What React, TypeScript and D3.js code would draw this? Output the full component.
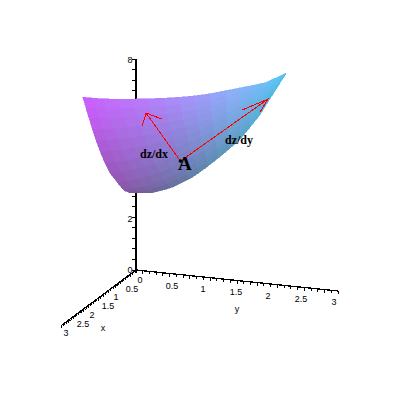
import React from "react";
import * as d3 from "d3";

// Axis values
const xTickLabels = ["0", "0.5", "1", "1.5", "2", "2.5", "3"];
const yTickLabels = ["0", "0.5", "1", "1.5", "2", "2.5", "3"];
const zTickLabels = ["0", "2", "8"];
const xyMinorTicks = d3.range(0, 31).map((d) => d / 10);
const zMinorTicks = d3.range(0, 21).map((d) => d * 0.4);

// Surface outline, as [y, z] read in the plane of the y and z axes
const surfaceTop: [number, number][] = [[-0.79, 6.55], [-0.46, 6.48], [0.01, 6.48], [0.51, 6.52], [1.0, 6.63], [1.51, 6.89], [1.9, 7.08], [2.23, 7.46]];
const surfaceBottom: [number, number][] = [[-0.09, 2.92], [0.25, 2.92], [0.55, 3.14], [0.85, 3.52], [1.15, 4.09], [1.51, 4.85], [1.81, 5.76], [2.23, 7.46]];
const surfaceLeft: [number, number][] = [[-0.79, 6.55], [-0.69, 5.68], [-0.57, 4.73], [-0.42, 3.79], [-0.19, 3.03], [-0.09, 2.92]];

// Corner colours of the surface
const colorTop = ["#cf5cff", "#b084fb", "#8fb0fa", "#52c8f6"];
const colorBottom = ["#75558f", "#5f7ba0", "#5a9cc0", "#52c0e6"];

// Arrows, [y, z]
const pointA: [number, number] = [0.66, 4.13];
const arrowDx: [number, number][] = [[0.66, 4.13], [0.15, 5.95]];
const arrowDxHead: [number, number][] = [[0.09, 5.45], [0.15, 5.95], [0.39, 5.72]];
const arrowDy: [number, number][] = [[0.66, 4.13], [1.96, 6.48]];
const arrowDyHead: [number, number][] = [[1.57, 6.06], [1.96, 6.48], [1.84, 5.98]];

const yScale = d3.scaleLinear().domain([0, 3]).range([136, 338]);
const zScale = d3.scaleLinear().domain([0, 8]).range([270, 59]);
const xPosX = d3.scaleLinear().domain([0, 3]).range([136, 62]);
const xPosY = d3.scaleLinear().domain([0, 3]).range([270, 325]);
const yPosY = d3.scaleLinear().domain([0, 3]).range([270, 291]);

const px = (p: [number, number]): [number, number] => [yScale(p[0]), zScale(p[1])];

function along(points: [number, number][]) {
  const t = points.map((_, i) => i / (points.length - 1));
  const a = d3.scaleLinear().domain(t).range(points.map((p) => p[0]));
  const b = d3.scaleLinear().domain(t).range(points.map((p) => p[1]));
  return (u: number): [number, number] => [a(u), b(u)];
}

const topAt = along(surfaceTop);
const bottomAt = along(surfaceBottom);
const leftAt = along(surfaceLeft);
const colTop = d3.scaleLinear<string>().domain([0, 0.4, 0.7, 1]).range(colorTop);
const colBottom = d3.scaleLinear<string>().domain([0, 0.4, 0.7, 1]).range(colorBottom);

const nU = 15;
const nV = 11;
function node(u: number, v: number): [number, number] {
  const t = topAt(u);
  const b = bottomAt(u);
  const l = leftAt(v);
  const l0 = surfaceLeft[0];
  const l1 = surfaceLeft[surfaceLeft.length - 1];
  const w = 1 - u;
  return [
    t[0] * (1 - v) + b[0] * v + w * w * (l[0] - (l0[0] * (1 - v) + l1[0] * v)),
    t[1] * (1 - v) + b[1] * v + w * w * (l[1] - (l0[1] * (1 - v) + l1[1] * v)),
  ];
}

const cells = d3.range(nU).flatMap((i) =>
  d3.range(nV).map((j) => {
    const u0 = i / nU, u1 = (i + 1) / nU, v0 = j / nV, v1 = (j + 1) / nV;
    const pts = [node(u0, v0), node(u1, v0), node(u1, v1), node(u0, v1)].map(px);
    const uc = (u0 + u1) / 2, vc = (v0 + v1) / 2;
    const fill = d3.interpolateRgb(colTop(uc), colBottom(uc))(Math.pow(vc, 1.15));
    return { key: `${i}-${j}`, d: d3.line()(pts) + "Z", fill };
  })
);

const line = d3.line();
const tickFont: React.CSSProperties = { fontFamily: "'Liberation Sans', sans-serif", fontSize: 9, fill: "#000" };
const boldFont: React.CSSProperties = { fontFamily: "'Liberation Serif', serif", fontWeight: 700, fill: "#000" };

const xLabelPos: [number, number][] = [[140, 283], [132, 292], [116, 300], [108, 309], [92, 318], [83, 327], [66, 336]];
const yLabelPos: [number, number][] = [[140, 283], [172, 289], [203, 292], [236, 295], [268, 299], [301, 302], [334, 305]];
const zLabelPos: [number, number][] = [[130, 273], [130, 222], [130, 63]];

export default function App() {
  return (
    <svg width={400} height={400} style={{ position: "fixed", left: 0, top: 0, background: "#fff" }}>
      <g shapeRendering="crispEdges" stroke="#000" fill="none">
        <path d={line([[136, zScale(0)], [136, zScale(8)]])!} strokeWidth={1.4} />
        {zMinorTicks.map((z) => (
          <path key={z} d={line([[132, zScale(z)], [136, zScale(z)]])!} />
        ))}
        <path d={line([[136, 270], [yScale(3), yPosY(3)]])!} strokeWidth={1.3} />
        {xyMinorTicks.map((y) => (
          <path key={y} d={line([[yScale(y), yPosY(y)], [yScale(y), yPosY(y) + 3]])!} />
        ))}
        <path d={line([[136, 270], [xPosX(3), xPosY(3)]])!} strokeWidth={1.3} />
        {xyMinorTicks.map((x) => (
          <path key={x} d={line([[xPosX(x), xPosY(x)], [xPosX(x) - 1, xPosY(x) + 3]])!} />
        ))}
      </g>
      <g shapeRendering="crispEdges">
        {cells.map((c) => (
          <path key={c.key} d={c.d} fill={c.fill} stroke={c.fill} strokeWidth={0.6} />
        ))}
      </g>
      <g stroke="#ff0000" fill="none" strokeWidth={1} shapeRendering="crispEdges">
        <path d={line(arrowDx.map(px))!} />
        <path d={line(arrowDxHead.map(px))!} />
        <path d={line(arrowDy.map(px))!} />
        <path d={line(arrowDyHead.map(px))!} />
      </g>
      <circle cx={px(pointA)[0]} cy={px(pointA)[1]} r={1.8} fill="#000" />
      <text x={178} y={170} style={{ ...boldFont, fontSize: 19 }}>A</text>
      <text x={140} y={158} style={{ ...boldFont, fontSize: 12 }}>dz/dx</text>
      <text x={225} y={144} style={{ ...boldFont, fontSize: 12 }}>dz/dy</text>
      {xTickLabels.map((t, i) => (
        <text key={t} x={xLabelPos[i][0]} y={xLabelPos[i][1]} textAnchor="middle" style={tickFont}>{t}</text>
      ))}
      {yTickLabels.slice(1).map((t, i) => (
        <text key={t} x={yLabelPos[i + 1][0]} y={yLabelPos[i + 1][1]} textAnchor="middle" style={tickFont}>{t}</text>
      ))}
      {zTickLabels.map((t, i) => (
        <text key={t} x={zLabelPos[i][0]} y={zLabelPos[i][1]} textAnchor="middle" style={tickFont}>{t}</text>
      ))}
      <text x={103} y={331} textAnchor="middle" style={tickFont}>x</text>
      <text x={237} y={312} textAnchor="middle" style={tickFont}>y</text>
    </svg>
  );
}
